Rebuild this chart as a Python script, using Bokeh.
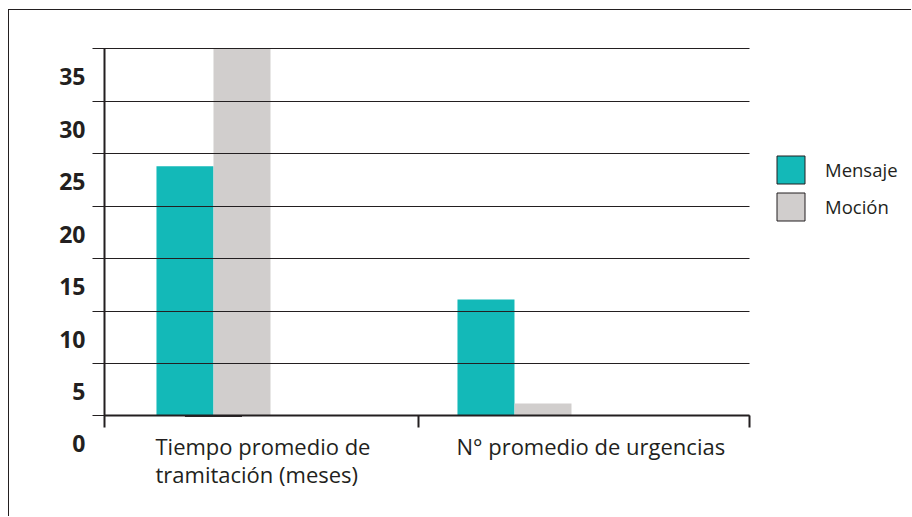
from bokeh.plotting import figure
from bokeh.models import (Range1d, FixedTicker, ColumnDataSource, Legend, LegendItem,
                          CustomJSTickFormatter)
from bokeh.core.properties import value
from bokeh.embed import file_html
from bokeh.resources import INLINE
import numpy as np

# ---- data ----
categories = ["Tiempo promedio de\ntramitación (meses)", "N° promedio de urgencias"]
mensaje = [23.8, 11.1]
mocion = [35.0, 1.2]
series_names = ["Mensaje", "Moción"]
yticks = [0, 5, 10, 15, 20, 25, 30, 35]

TEAL = "#13b9b8"
GRAY = "#d1cecd"
INK = "#231f20"

# ---- layout (category units: group centres at 0, 1) ----
bar_w = 0.1894
y_axis_x = -0.3621          # where the value axis sits
x_axis_end = 1.7807         # right end of the category axis
x_boundary = 0.680          # tick between the two categories
xs = np.arange(len(categories))

p = figure(width=903, height=507, output_backend="svg", toolbar_location=None,
           x_range=Range1d(-0.6777, 2.3223), y_range=Range1d(-9.676, 38.651),
           min_border=0, min_border_left=0, min_border_right=0,
           min_border_top=0, min_border_bottom=0, outline_line_color=None,
           background_fill_color="white", border_fill_color="white")
p.styles = {"margin-left": "8px", "margin-top": "9px",
            "border-top": f"1px solid {INK}", "border-left": f"1px solid {INK}"}

src = ColumnDataSource(dict(xm=xs - bar_w / 2, xc=xs + bar_w / 2,
                            mensaje=mensaje, mocion=mocion))
p.vbar(x="xm", top="mensaje", width=bar_w, source=src, fill_color=TEAL, line_color=None)
p.vbar(x="xc", top="mocion", width=bar_w, source=src, fill_color=GRAY, line_color=None)

# legend proxies (bordered squares): zero-height bars lying on the baseline
r1 = p.vbar(x=[xs[0]], bottom=[0], top=[0], width=bar_w, fill_color=TEAL,
            line_color=INK, line_width=1)
r2 = p.vbar(x=[xs[0]], bottom=[0], top=[0], width=bar_w, fill_color=GRAY,
            line_color=INK, line_width=1)
legend = Legend(items=[LegendItem(label=series_names[0], renderers=[r1], index=0),
                       LegendItem(label=series_names[1], renderers=[r2], index=0)],
                location=(764, 293), orientation="vertical",
                glyph_width=35, glyph_height=35, label_height=35, spacing=2,
                label_standoff=17, padding=0, margin=0,
                border_line_color=None, background_fill_alpha=0,
                label_text_font="Open Sans", label_text_font_size="18.5px",
                label_text_color=INK)
p.add_layout(legend, "center")

blank = CustomJSTickFormatter(code="return ''")

# value axis: ticks out = left stubs, ticks in = gridlines
p.yaxis.fixed_location = y_axis_x
p.yaxis.bounds = (0, 35)
p.yaxis.ticker = FixedTicker(ticks=yticks)
p.yaxis.formatter = blank
p.yaxis.axis_line_width = 2
p.yaxis.axis_line_color = INK
p.yaxis.major_tick_out = 12
p.yaxis.major_tick_in = 645
p.yaxis.major_tick_line_width = 1
p.yaxis.major_tick_line_color = INK
p.yaxis.minor_tick_line_color = None

# category axis at y = 0
p.xaxis.fixed_location = 0
p.xaxis.bounds = (y_axis_x, x_axis_end)
p.xaxis.ticker = FixedTicker(ticks=[y_axis_x, x_boundary, x_axis_end])
p.xaxis.formatter = blank
p.xaxis.axis_line_width = 2
p.xaxis.axis_line_color = INK
p.xaxis.major_tick_out = 12
p.xaxis.major_tick_in = 0
p.xaxis.major_tick_line_width = 2
p.xaxis.major_tick_line_color = INK
p.xaxis.minor_tick_line_color = None

p.xgrid.visible = False
p.ygrid.visible = False

# value labels (sit below their gridlines, as in the original)
p.text(x=[y_axis_x] * len(yticks), y=yticks, text=[str(v) for v in yticks],
       x_offset=-19, y_offset=28, text_align="right", text_baseline="middle",
       text_font=value("Open Sans"), text_font_style="bold",
       text_font_size="23px", text_color=INK)

# category labels
p.text(x=xs - bar_w, y=[0] * len(categories), text=categories,
       x_offset=-1, y_offset=15, text_align="left", text_baseline="top",
       text_line_height=0.94, text_font=value("Open Sans"),
       text_font_size="22px", text_color=INK)

open("out.html", "w").write(file_html(p, INLINE))
